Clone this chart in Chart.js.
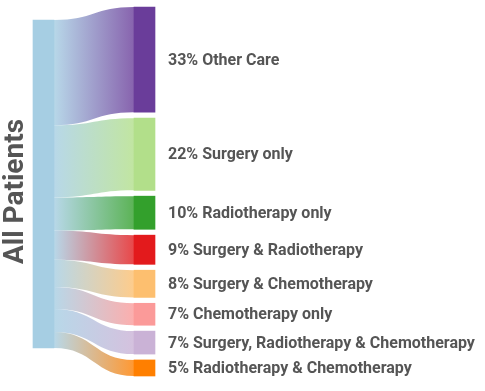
<!DOCTYPE html>
<html>
<head>
<meta charset="utf-8">
<script src="https://cdn.jsdelivr.net/npm/chart.js@4"></script>
<style>
  html, body { margin: 0; padding: 0; background: #fff; }
  #wrap { width: 485px; height: 391px; position: relative; }
</style>
</head>
<body>
<div id="wrap"><canvas id="sankeyChart"></canvas></div>
<script>
const sourceLabel = 'All Patients';
const categories = [
    'Other Care',
    'Surgery only',
    'Radiotherapy only',
    'Surgery & Radiotherapy',
    'Surgery & Chemotherapy',
    'Chemotherapy only',
    'Surgery, Radiotherapy & Chemotherapy',
    'Radiotherapy & Chemotherapy'
];
const percentLabels = ['33%', '22%', '10%', '9%', '8%', '7%', '7%', '5%'];
const flowValues = [32.1, 22.0, 10.1, 8.9, 8.3, 6.7, 7.0, 4.9];

const sourceColor = '#a6cee3';
const nodeColors = ['#6a3d9a', '#b2df8a', '#33a02c', '#e31a1c', '#fdbf6f', '#fb9a99', '#cab2d6', '#ff7f00'];

// layout in value units (1 unit = 1% of patients)
const nodeGap = 1.786;
const sourceOffset = 3.96;
const textColor = '#555';

const total = flowValues.reduce((a, b) => a + b, 0);

// floating bars for the nodes
const nodeBars = [{ x: 0, y: [sourceOffset, sourceOffset + total] }];
let pos = 0;
flowValues.forEach(v => {
    nodeBars.push({ x: 1, y: [pos, pos + v] });
    pos += v + nodeGap;
});
const yMax = pos - nodeGap;

function withAlpha(hex, a) {
    const n = parseInt(hex.slice(1), 16);
    return `rgba(${(n >> 16) & 255}, ${(n >> 8) & 255}, ${n & 255}, ${a})`;
}

const sankeyPlugin = {
    id: 'sankeyLinks',
    beforeDatasetsDraw(chart) {
        const ctx = chart.ctx;
        const y = chart.scales.y;
        const bars = chart.getDatasetMeta(0).data;
        const src = bars[0];
        const x0 = src.x + src.width / 2;
        let srcPos = sourceOffset;
        ctx.save();
        flowValues.forEach((v, i) => {
            const tgt = bars[i + 1];
            const x1 = tgt.x - tgt.width / 2;
            const xm = (x0 + x1) / 2;
            const sTop = y.getPixelForValue(srcPos);
            const sBot = y.getPixelForValue(srcPos + v);
            const tTop = y.getPixelForValue(nodeBars[i + 1].y[0]);
            const tBot = y.getPixelForValue(nodeBars[i + 1].y[1]);
            const grad = ctx.createLinearGradient(x0, 0, x1, 0);
            grad.addColorStop(0, withAlpha(sourceColor, 0.8));
            grad.addColorStop(1, withAlpha(nodeColors[i], 0.8));
            ctx.beginPath();
            ctx.moveTo(x0, sTop);
            ctx.bezierCurveTo(xm, sTop, xm, tTop, x1, tTop);
            ctx.lineTo(x1, tBot);
            ctx.bezierCurveTo(xm, tBot, xm, sBot, x0, sBot);
            ctx.closePath();
            ctx.fillStyle = grad;
            ctx.fill();
            srcPos += v;
        });
        ctx.restore();
    },
    afterDatasetsDraw(chart) {
        const ctx = chart.ctx;
        const area = chart.chartArea;
        const bars = chart.getDatasetMeta(0).data;
        ctx.save();
        ctx.fillStyle = textColor;
        ctx.textBaseline = 'middle';
        ctx.textAlign = 'left';
        ctx.font = 'bold 16px Roboto';
        categories.forEach((name, i) => {
            const b = bars[i + 1];
            const cy = (b.y + b.base) / 2;
            ctx.fillText(percentLabels[i] + ' ' + name, b.x + b.width / 2 + 13, cy + 1);
        });
        // source label, rotated
        ctx.translate(15, (area.top + area.bottom) / 2);
        ctx.rotate(-Math.PI / 2);
        ctx.textAlign = 'center';
        ctx.font = 'bold 28px Roboto';
        ctx.fillText(sourceLabel, 0, 1);
        ctx.restore();
    }
};

function createSankeyChart() {
    const ctx = document.getElementById('sankeyChart').getContext('2d');
    new Chart(ctx, {
        type: 'bar',
        data: {
            datasets: [{
                data: nodeBars,
                backgroundColor: [sourceColor, ...nodeColors],
                borderWidth: 0,
                barThickness: 21,
                clip: false
            }]
        },
        options: {
            responsive: true,
            maintainAspectRatio: false,
            animation: false,
            layout: {
                padding: { left: 43.5, right: 340.5, top: 7, bottom: 15 }
            },
            scales: {
                x: { type: 'linear', min: 0, max: 1, display: false, offset: false },
                y: { type: 'linear', min: 0, max: yMax, reverse: true, display: false }
            },
            plugins: {
                legend: { display: false },
                tooltip: { enabled: false }
            }
        },
        plugins: [sankeyPlugin]
    });
}

document.addEventListener('DOMContentLoaded', createSankeyChart);
</script>
</body>
</html>
